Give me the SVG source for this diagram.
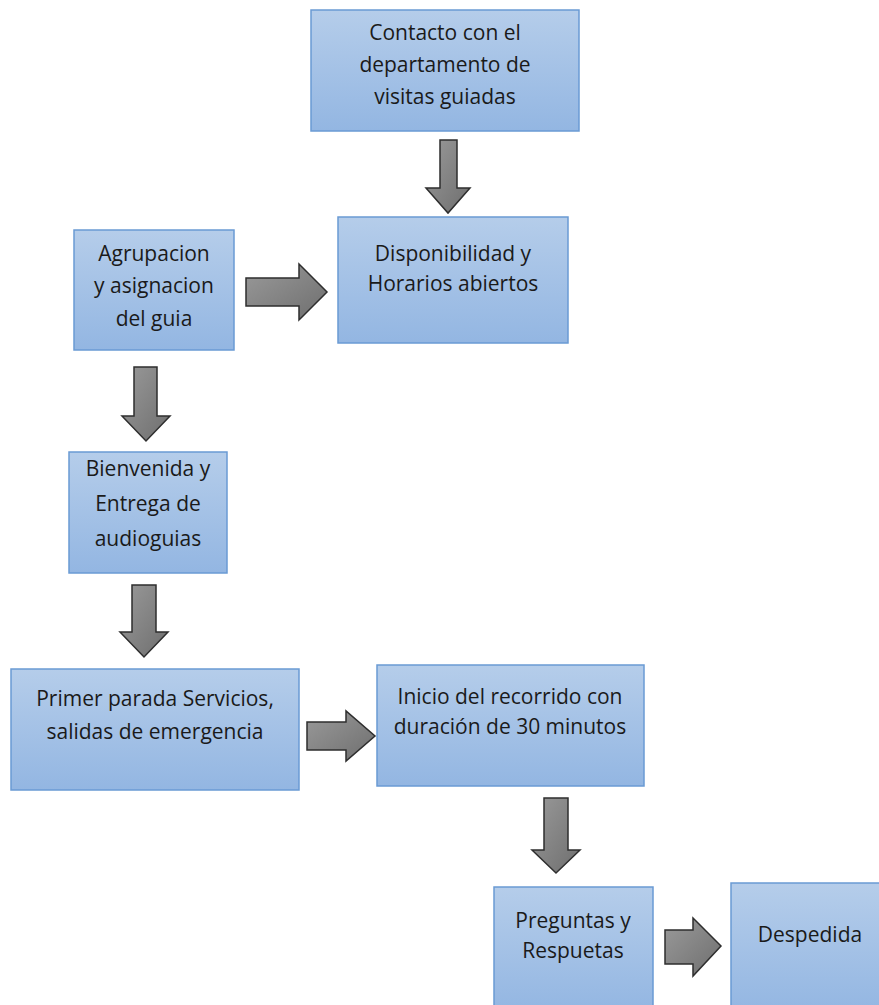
<svg xmlns="http://www.w3.org/2000/svg" width="879" height="1005" viewBox="0 0 879 1005">
<defs>
<linearGradient id="bf" x1="0" y1="0" x2="0" y2="1"><stop offset="0" stop-color="#b5cdea"/><stop offset="1" stop-color="#93b6e2"/></linearGradient>
<linearGradient id="af" x1="0" y1="0" x2="1" y2="1"><stop offset="0" stop-color="#9a9a9a"/><stop offset="1" stop-color="#6e6e6e"/></linearGradient>
</defs>
<style>
.box{fill:url(#bf);stroke:#6a9ad4;stroke-width:1.5}
.arr{fill:url(#af);stroke:#2e2e2e;stroke-width:1.5;stroke-linejoin:miter}
text{font-family:"Open Sans","Liberation Sans",sans-serif;font-size:21px;fill:#1a1a1a;text-anchor:middle}
</style>
<rect width="879" height="1005" fill="#ffffff"/>
<g id="connectors">
<path class="arr" d="M440,140 H457 V188 H470 L448,213 L426,188 H440 Z"/>
<path class="arr" d="M246,278 H299 V264 L327,292 L299,320 V306 H246 Z"/>
<path class="arr" d="M134,367 H157 V416 H170 L146,441 L122,416 H134 Z"/>
<path class="arr" d="M132,585 H156 V632 H168 L144,657 L120,632 H132 Z"/>
<path class="arr" d="M307,722 H346 V711 L375,736 L346,761 V750 H307 Z"/>
<path class="arr" d="M544,798 H568 V850 H580 L556,873 L532,850 H544 Z"/>
<path class="arr" d="M665,930 H693 V918 L721,946 L693,976 V964 H665 Z"/>
</g>
<g id="n1"><rect class="box" x="311" y="10" width="268" height="121"/><text x="445" y="40">Contacto con el</text><text x="445" y="72">departamento de</text><text x="445" y="104">visitas guiadas</text></g>
<g id="n2"><rect class="box" x="338" y="217" width="230" height="126"/><text x="453" y="261">Disponibilidad y</text><text x="453" y="291">Horarios abiertos</text></g>
<g id="n3"><rect class="box" x="74" y="230" width="160" height="120"/><text x="154" y="261">Agrupacion</text><text x="154" y="293">y asignacion</text><text x="154" y="326">del guia</text></g>
<g id="n4"><rect class="box" x="69" y="452" width="158" height="121"/><text x="148" y="476">Bienvenida y</text><text x="148" y="511">Entrega de</text><text x="148" y="546">audioguias</text></g>
<g id="n5"><rect class="box" x="11" y="669" width="288" height="121"/><text x="155" y="706">Primer parada Servicios,</text><text x="155" y="739">salidas de emergencia</text></g>
<g id="n6"><rect class="box" x="377" y="665" width="267" height="121"/><text x="510" y="704">Inicio del recorrido con</text><text x="510" y="734">duración de 30 minutos</text></g>
<g id="n7"><rect class="box" x="494" y="887" width="159" height="125"/><text x="573" y="928">Preguntas y</text><text x="573" y="958">Respuetas</text></g>
<g id="n8"><rect class="box" x="731" y="883" width="155" height="130"/><text x="810" y="942">Despedida</text></g>
</svg>
